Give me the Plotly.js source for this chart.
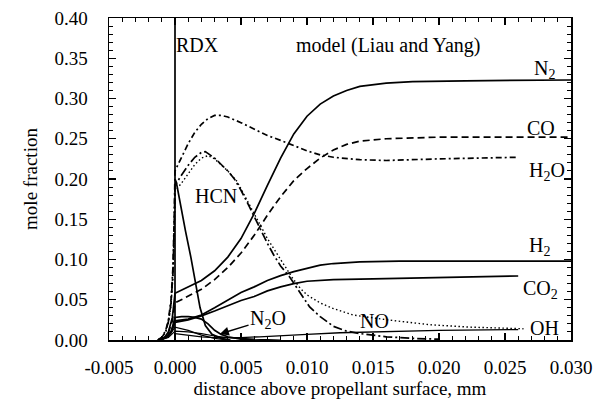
<!DOCTYPE html>
<html>
<head>
<meta charset="utf-8">
<script src="https://cdn.plot.ly/plotly-3.0.1.min.js"></script>
<style>
html,body{margin:0;padding:0;background:#fff;}
#chart{width:612px;height:405px;}
</style>
</head>
<body>
<div id="chart"></div>
<script>
// ---- data ----
const rdxX = [0, 0, 0, 0.0001, 0.0004, 0.0008, 0.0012, 0.0016, 0.0019, 0.0023, 0.0028, 0.0035, 0.0042];
const rdxY = [0, 0.45, 0.20, 0.196, 0.168, 0.135, 0.103, 0.068, 0.040, 0.018, 0.007, 0.002, 0.0];

const n2X = [-0.0012, -0.0008, -0.0005, -0.0002, 0, 0.001, 0.002, 0.003, 0.004, 0.005, 0.006, 0.007, 0.008, 0.009, 0.010, 0.011, 0.012, 0.013, 0.014, 0.016, 0.018, 0.022, 0.030];
const n2Y = [0, 0.003, 0.010, 0.028, 0.058, 0.066, 0.074, 0.086, 0.103, 0.126, 0.157, 0.192, 0.226, 0.256, 0.278, 0.293, 0.303, 0.310, 0.315, 0.319, 0.321, 0.322, 0.323];

const coX = [-0.0012, -0.0008, -0.0005, -0.0002, 0, 0.001, 0.002, 0.003, 0.004, 0.005, 0.006, 0.007, 0.008, 0.009, 0.010, 0.011, 0.012, 0.013, 0.014, 0.016, 0.020, 0.030];
const coY = [0, 0.003, 0.009, 0.024, 0.046, 0.054, 0.063, 0.075, 0.090, 0.108, 0.130, 0.155, 0.178, 0.198, 0.213, 0.226, 0.236, 0.243, 0.247, 0.250, 0.252, 0.252];

const h2oX = [-0.0013, -0.001, -0.0007, -0.0005, -0.0003, -0.00015, -0.00005, 0, 0.0005, 0.001, 0.0015, 0.002, 0.0025, 0.003, 0.0035, 0.004, 0.005, 0.006, 0.007, 0.008, 0.009, 0.010, 0.011, 0.012, 0.014, 0.016, 0.020, 0.024, 0.026];
const h2oY = [0, 0.003, 0.012, 0.025, 0.050, 0.092, 0.160, 0.210, 0.227, 0.244, 0.258, 0.268, 0.275, 0.279, 0.279, 0.277, 0.270, 0.262, 0.254, 0.248, 0.241, 0.235, 0.230, 0.227, 0.224, 0.223, 0.225, 0.226, 0.227];

const hcnX = [-0.0013, -0.001, -0.0007, -0.0005, -0.0003, -0.00015, -0.00005, 0, 0.0005, 0.001, 0.0015, 0.002, 0.0023, 0.003, 0.0035, 0.004, 0.0045, 0.005, 0.0055, 0.006, 0.0065, 0.007, 0.0075, 0.008, 0.0087, 0.0095, 0.0102, 0.011, 0.012, 0.013, 0.014, 0.016, 0.018, 0.020];
const hcnY = [0, 0.003, 0.011, 0.023, 0.046, 0.085, 0.150, 0.192, 0.205, 0.217, 0.227, 0.233, 0.234, 0.226, 0.218, 0.210, 0.200, 0.186, 0.170, 0.153, 0.137, 0.120, 0.105, 0.092, 0.078, 0.058, 0.041, 0.029, 0.017, 0.011, 0.008, 0.004, 0.002, 0.001];

const noX = [-0.0013, -0.001, -0.0007, -0.0005, -0.0003, -0.00015, -0.00005, 0, 0.0005, 0.001, 0.0015, 0.002, 0.0025, 0.003, 0.0035, 0.004, 0.0047, 0.0055, 0.006, 0.007, 0.008, 0.0089, 0.0095, 0.010, 0.011, 0.012, 0.0135, 0.015, 0.0161, 0.0193, 0.0223, 0.0264];
const noY = [0, 0.003, 0.010, 0.021, 0.043, 0.080, 0.140, 0.185, 0.195, 0.207, 0.218, 0.226, 0.229, 0.225, 0.218, 0.210, 0.197, 0.172, 0.157, 0.126, 0.100, 0.077, 0.064, 0.056, 0.046, 0.039, 0.031, 0.027, 0.025, 0.019, 0.016, 0.014];

const h2X = [-0.0012, -0.0007, -0.0003, 0, 0.001, 0.002, 0.003, 0.004, 0.005, 0.006, 0.007, 0.008, 0.009, 0.010, 0.011, 0.012, 0.014, 0.017, 0.022, 0.030];
const h2Y = [0, 0.003, 0.010, 0.024, 0.026, 0.031, 0.040, 0.050, 0.059, 0.066, 0.074, 0.080, 0.085, 0.089, 0.093, 0.095, 0.097, 0.098, 0.098, 0.098];

const co2X = [-0.0012, -0.0007, -0.0003, 0, 0.001, 0.002, 0.003, 0.004, 0.005, 0.006, 0.007, 0.008, 0.009, 0.010, 0.012, 0.015, 0.020, 0.026];
const co2Y = [0, 0.003, 0.009, 0.022, 0.025, 0.030, 0.036, 0.043, 0.049, 0.054, 0.061, 0.066, 0.070, 0.073, 0.075, 0.076, 0.078, 0.0795];

const n2oX = [-0.0012, -0.0007, -0.0003, 0, 0.0005, 0.001, 0.0015, 0.002, 0.0025, 0.003, 0.0035, 0.004, 0.005, 0.006];
const n2oY = [0, 0.003, 0.010, 0.028, 0.029, 0.029, 0.028, 0.026, 0.020, 0.012, 0.007, 0.004, 0.001, 0.0];

const no2X = [-0.0011, -0.0005, 0, 0.001, 0.002, 0.003, 0.004];
const no2Y = [0, 0.004, 0.016, 0.012, 0.006, 0.002, 0.0];

const ch2oX = [-0.0011, -0.0005, 0, 0.001, 0.002, 0.003, 0.004, 0.006, 0.008];
const ch2oY = [0, 0.003, 0.011, 0.010, 0.008, 0.005, 0.003, 0.001, 0.0];

const ohX = [0, 0.001, 0.002, 0.003, 0.005, 0.0064, 0.008, 0.010, 0.0125, 0.0155, 0.020, 0.026];
const ohY = [0.008, 0.006, 0.004, 0.003, 0.003, 0.004, 0.005, 0.007, 0.009, 0.010, 0.012, 0.013];

const xTickVals = [-0.005, 0, 0.005, 0.010, 0.015, 0.020, 0.025, 0.030];
const xTickText = ['-0.005', '0.000', '0.005', '0.010', '0.015', '0.020', '0.025', '0.030'];

// ---- traces ----
const W = 1.7;
function tr(x, y, dash, w) {
  return {x: x, y: y, type: 'scatter', mode: 'lines', showlegend: false,
          hoverinfo: 'skip', line: {color: '#000', width: w || W, dash: dash || 'solid'}};
}
const data = [
  tr(rdxX, rdxY, 'solid'),
  tr(n2X, n2Y, 'solid'),
  tr(coX, coY, '7px,4px'),
  tr(h2oX, h2oY, '6px,3px,2px,3px'),
  tr(hcnX, hcnY, '9px,3px,2px,3px'),
  tr(noX, noY, '1.5px,2.5px', 1.4),
  tr(h2X, h2Y, 'solid'),
  tr(co2X, co2Y, 'solid'),
  tr(n2oX, n2oY, 'solid'),
  tr(no2X, no2Y, 'solid', 1.2),
  tr(ch2oX, ch2oY, 'solid', 1.2),
  tr(ohX, ohY, 'solid', 1.3)
];

const F = 'Liberation Serif';
function lab(text, x, y) {
  return {text: text, x: x, y: y, xref: 'x', yref: 'y', showarrow: false,
          font: {family: F, size: 20, color: '#000'}, xanchor: 'center', yanchor: 'middle'};
}
const annotations = [
  lab('RDX', 0.00174, 0.366),
  lab('model (Liau and Yang)', 0.01614, 0.366),
  lab('N<sub>2</sub>', 0.0280, 0.336),
  lab('CO', 0.0277, 0.263),
  lab('H<sub>2</sub>O', 0.0282, 0.209),
  lab('HCN', 0.0031, 0.179),
  lab('H<sub>2</sub>', 0.02765, 0.116),
  lab('CO<sub>2</sub>', 0.0277, 0.0625),
  lab('NO', 0.01515, 0.0236),
  lab('OH', 0.0280, 0.0155),
  {text: 'N<sub>2</sub>O', x: 0.0034, y: 0.0075, xref: 'x', yref: 'y',
   ax: 0.00705, ay: 0.026, axref: 'x', ayref: 'y', showarrow: true,
   arrowhead: 2, arrowsize: 1.2, arrowwidth: 1.5, arrowcolor: '#000',
   font: {family: F, size: 20, color: '#000'}}
];

const axisCommon = {
  showline: true, linecolor: '#000', linewidth: 1.5, mirror: 'allticks',
  ticks: 'inside', ticklen: 7, tickwidth: 1.2, tickcolor: '#000',
  showgrid: false, zeroline: false,
  tickfont: {family: F, size: 19, color: '#000'}
};

const layout = {
  width: 612, height: 405,
  font: {family: F, color: '#000'},
  margin: {l: 109, r: 41, t: 18, b: 65, pad: 0},
  paper_bgcolor: '#fff', plot_bgcolor: '#fff',
  xaxis: Object.assign({}, axisCommon, {
    range: [-0.005, 0.030], tickvals: xTickVals, ticktext: xTickText,
    minor: {dtick: 0.001, ticks: 'inside', ticklen: 4, tickwidth: 1, tickcolor: '#000'},
    ticklabelstandoff: 10,
    title: {text: 'distance above propellant surface, mm', font: {family: F, size: 19, color: '#000'}, standoff: 4}
  }),
  yaxis: Object.assign({}, axisCommon, {
    range: [0, 0.40], dtick: 0.05, tick0: 0, tickformat: '.2f',
    minor: {dtick: 0.01, ticks: 'inside', ticklen: 4, tickwidth: 1, tickcolor: '#000'},
    ticklabelstandoff: 16,
    title: {text: 'mole fraction', font: {family: F, size: 19, color: '#000'}, standoff: 12}
  }),
  annotations: annotations
};

Plotly.newPlot('chart', data, layout, {displayModeBar: false, staticPlot: true});
</script>
</body>
</html>
